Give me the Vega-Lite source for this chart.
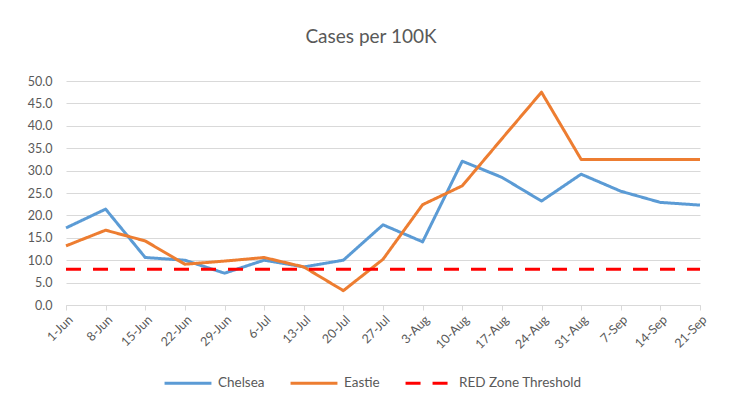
{
  "$schema": "https://vega.github.io/schema/vega-lite/v6.json",
  "autosize": "none",
  "padding": {"left": 66, "top": 81, "right": 34, "bottom": 100},
  "width": 634,
  "height": 224,
  "background": "white",
  "title": {
    "text": "Cases per 100K",
    "font": "Lato",
    "fontSize": 19,
    "fontWeight": "normal",
    "color": "#595959",
    "anchor": "middle",
    "offset": 28,
    "dx": -12
  },
  "config": {
    "view": {"stroke": null},
    "font": "Lato"
  },
  "data": {
    "values": [
      {"date": "1-Jun", "series": "Chelsea", "value": 17.2},
      {"date": "8-Jun", "series": "Chelsea", "value": 21.4},
      {"date": "15-Jun", "series": "Chelsea", "value": 10.6},
      {"date": "22-Jun", "series": "Chelsea", "value": 10.0},
      {"date": "29-Jun", "series": "Chelsea", "value": 7.1},
      {"date": "6-Jul", "series": "Chelsea", "value": 10.0},
      {"date": "13-Jul", "series": "Chelsea", "value": 8.5},
      {"date": "20-Jul", "series": "Chelsea", "value": 10.0},
      {"date": "27-Jul", "series": "Chelsea", "value": 17.9},
      {"date": "3-Aug", "series": "Chelsea", "value": 14.1},
      {"date": "10-Aug", "series": "Chelsea", "value": 32.1},
      {"date": "17-Aug", "series": "Chelsea", "value": 28.5},
      {"date": "24-Aug", "series": "Chelsea", "value": 23.2},
      {"date": "31-Aug", "series": "Chelsea", "value": 29.2},
      {"date": "7-Sep", "series": "Chelsea", "value": 25.4},
      {"date": "14-Sep", "series": "Chelsea", "value": 22.9},
      {"date": "21-Sep", "series": "Chelsea", "value": 22.3},
      {"date": "1-Jun", "series": "Eastie", "value": 13.2},
      {"date": "8-Jun", "series": "Eastie", "value": 16.7},
      {"date": "15-Jun", "series": "Eastie", "value": 14.3},
      {"date": "22-Jun", "series": "Eastie", "value": 9.1},
      {"date": "29-Jun", "series": "Eastie", "value": 9.8},
      {"date": "6-Jul", "series": "Eastie", "value": 10.6},
      {"date": "13-Jul", "series": "Eastie", "value": 8.5},
      {"date": "20-Jul", "series": "Eastie", "value": 3.2},
      {"date": "27-Jul", "series": "Eastie", "value": 10.2},
      {"date": "3-Aug", "series": "Eastie", "value": 22.4},
      {"date": "10-Aug", "series": "Eastie", "value": 26.6},
      {"date": "17-Aug", "series": "Eastie", "value": 37.1},
      {"date": "24-Aug", "series": "Eastie", "value": 47.5},
      {"date": "31-Aug", "series": "Eastie", "value": 32.5},
      {"date": "7-Sep", "series": "Eastie", "value": 32.5},
      {"date": "14-Sep", "series": "Eastie", "value": 32.5},
      {"date": "21-Sep", "series": "Eastie", "value": 32.5},
      {"date": "1-Jun", "series": "RED Zone Threshold", "value": 8.0},
      {"date": "8-Jun", "series": "RED Zone Threshold", "value": 8.0},
      {"date": "15-Jun", "series": "RED Zone Threshold", "value": 8.0},
      {"date": "22-Jun", "series": "RED Zone Threshold", "value": 8.0},
      {"date": "29-Jun", "series": "RED Zone Threshold", "value": 8.0},
      {"date": "6-Jul", "series": "RED Zone Threshold", "value": 8.0},
      {"date": "13-Jul", "series": "RED Zone Threshold", "value": 8.0},
      {"date": "20-Jul", "series": "RED Zone Threshold", "value": 8.0},
      {"date": "27-Jul", "series": "RED Zone Threshold", "value": 8.0},
      {"date": "3-Aug", "series": "RED Zone Threshold", "value": 8.0},
      {"date": "10-Aug", "series": "RED Zone Threshold", "value": 8.0},
      {"date": "17-Aug", "series": "RED Zone Threshold", "value": 8.0},
      {"date": "24-Aug", "series": "RED Zone Threshold", "value": 8.0},
      {"date": "31-Aug", "series": "RED Zone Threshold", "value": 8.0},
      {"date": "7-Sep", "series": "RED Zone Threshold", "value": 8.0},
      {"date": "14-Sep", "series": "RED Zone Threshold", "value": 8.0},
      {"date": "21-Sep", "series": "RED Zone Threshold", "value": 8.0}
    ]
  },
  "mark": {"type": "line", "strokeCap": "butt", "strokeJoin": "round"},
  "encoding": {
    "x": {
      "field": "date",
      "type": "ordinal",
      "sort": null,
      "scale": {"type": "point", "padding": 0},
      "axis": {
        "title": null,
        "labelAngle": -45,
        "labelFont": "Lato",
        "labelFontSize": 12.5,
        "labelColor": "#595959",
        "labelPadding": 3,
        "domainColor": "#D9D9D9",
        "tickColor": "#D9D9D9",
        "tickSize": 5,
        "grid": false
      }
    },
    "y": {
      "field": "value",
      "type": "quantitative",
      "scale": {"domain": [0, 50], "nice": false},
      "axis": {
        "title": null,
        "values": [0, 5, 10, 15, 20, 25, 30, 35, 40, 45, 50],
        "format": ".1f",
        "labelFont": "Lato",
        "labelFontSize": 12.5,
        "labelColor": "#595959",
        "labelPadding": 14,
        "domain": false,
        "ticks": false,
        "gridColor": "#D9D9D9",
        "gridWidth": 1
      }
    },
    "color": {
      "field": "series",
      "type": "nominal",
      "scale": {
        "domain": ["Chelsea", "Eastie", "RED Zone Threshold"],
        "range": ["#5B9BD5", "#ED7D31", "#FF0000"]
      },
      "legend": {
        "title": null,
        "orient": "none",
        "legendX": 97,
        "legendY": 277,
        "direction": "horizontal",
        "symbolType": "stroke",
        "symbolSize": 2200,
        "symbolStrokeWidth": 3.5,
        "labelFont": "Lato",
        "labelFontSize": 13.5,
        "labelColor": "#595959",
        "columnPadding": 19,
        "labelOffset": 5
      }
    },
    "strokeDash": {
      "field": "series",
      "type": "nominal",
      "scale": {
        "domain": ["Chelsea", "Eastie", "RED Zone Threshold"],
        "range": [[1, 0], [1, 0], [15, 12]]
      }
    },
    "strokeWidth": {
      "field": "series",
      "type": "nominal",
      "scale": {
        "domain": ["Chelsea", "Eastie", "RED Zone Threshold"],
        "range": [3, 3, 3.8]
      },
      "legend": null
    }
  }
}
